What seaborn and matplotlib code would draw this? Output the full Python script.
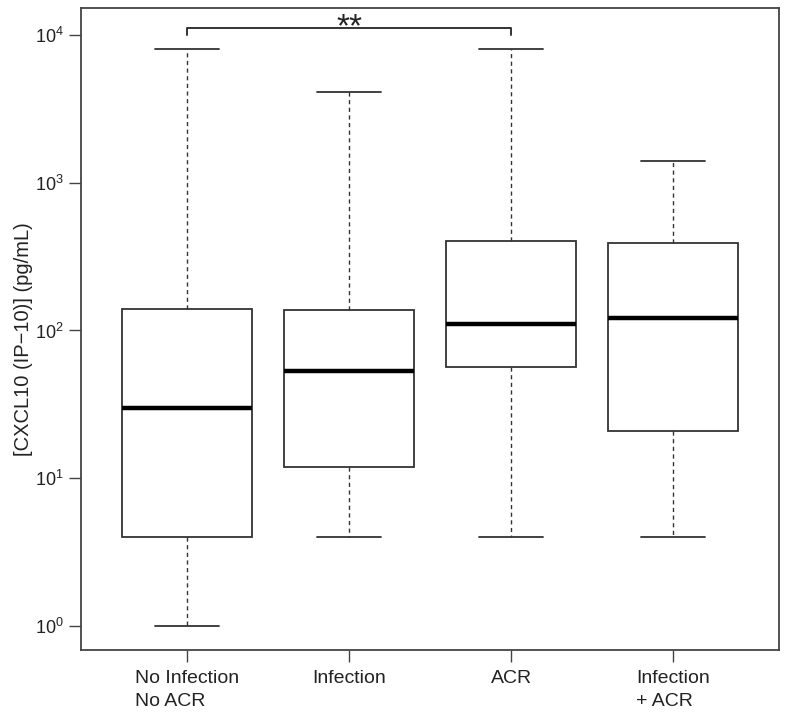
import matplotlib
matplotlib.use("Agg")
import matplotlib.pyplot as plt
import numpy as np
import pandas as pd
import seaborn as sns

# Box summaries: min, Q1, median, Q3, max (pg/mL)
groups = ["No Infection\nNo ACR", "Infection", "ACR", "Infection\n+ ACR"]
no_inf_no_acr = [1, 4, 30, 140, 8000]
infection = [4, 12, 53, 138, 4100]
acr = [4, 57, 110, 400, 8000]
infection_acr = [4, 21, 122, 390, 1390]

# significance bracket between group 0 and group 2
sig_pair = (0, 2)
sig_label = "**"
sig_y = 11000
sig_tip = 10000

sns.set_style("ticks")
plt.rcParams["font.family"] = ["Liberation Sans", "DejaVu Sans"]
plt.rcParams["mathtext.default"] = "regular"

df = pd.DataFrame({
    "group": np.repeat(groups, 5),
    "value": no_inf_no_acr + infection + acr + infection_acr,
})

fig = plt.figure(figsize=(7.88, 7.18), dpi=100)
ax = fig.add_axes([0.1024, 0.0947, 0.8862, 0.8942])

edge = "#333333"
sns.boxplot(
    data=df, x="group", y="value", order=groups, ax=ax,
    log_scale=True, whis=(0, 100), width=0.8,
    color="white", linecolor=edge, linewidth=1.3,
    medianprops={"linewidth": 3.2, "color": "black"},
    whiskerprops={"linestyle": (0, (3, 2.5)), "linewidth": 1.0},
    capprops={"linewidth": 1.3},
    capwidths=0.4,
)

# significance bracket
x0, x1 = sig_pair
ax.plot([x0, x0, x1, x1], [sig_tip, sig_y, sig_y, sig_tip], color=edge, lw=1.4)
ax.text((x0 + x1) / 2, 9700, sig_label, ha="center", va="baseline", fontsize=24, color="#222222")

ax.set_xlim(-0.656, 3.654)
ax.set_ylim(10 ** -0.16, 10 ** 4.18)
ax.set_yticks([1, 10, 100, 1000, 10000])
ax.yaxis.set_minor_locator(matplotlib.ticker.NullLocator())
ax.set_xlabel("")
ax.set_ylabel("[CXCL10 (IP\u221210)] (pg/mL)", fontsize=14.5, color="#222222")
ax.yaxis.set_label_coords(-0.068, 0.484)

for side in ["top", "right", "bottom", "left"]:
    ax.spines[side].set_visible(True)
    ax.spines[side].set_color("#444444")
    ax.spines[side].set_linewidth(1.3)

ax.tick_params(axis="both", length=8.5, width=1.0, color="#444444", labelcolor="#222222")
ax.tick_params(axis="y", labelsize=13, pad=3.5)
ax.tick_params(axis="x", labelsize=14, pad=6)
for lbl in ax.get_xticklabels():
    lbl.set_multialignment("left")
    lbl.set_linespacing(1.45)

fig.savefig("out.png", dpi=100)
